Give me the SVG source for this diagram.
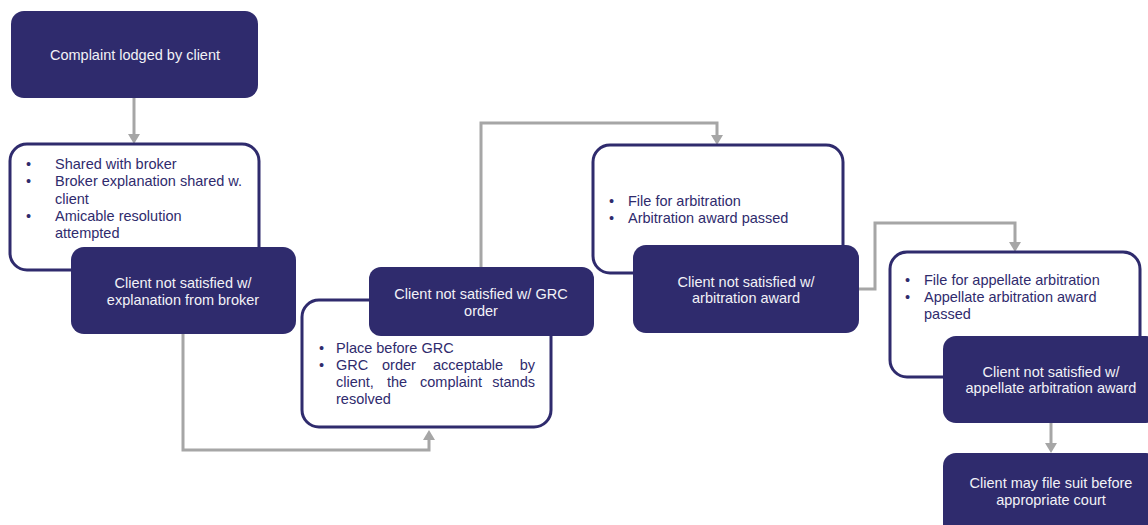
<svg xmlns="http://www.w3.org/2000/svg" width="1148" height="525" viewBox="0 0 1148 525">
<defs>
<style>
.dark{fill:#2f2b6d;stroke:none}
.light{fill:#ffffff;stroke:#2f2b6d;stroke-width:3}
.wt{font-family:"Liberation Sans",Arial,sans-serif;font-size:14.5px;fill:#f2f2f7;text-anchor:middle}
.nt{font-family:"Liberation Sans",Arial,sans-serif;font-size:14.5px;fill:#2f2b6d}
.end{text-anchor:end}
.conn{fill:none;stroke:#a6a6a6;stroke-width:3}
</style>
<marker id="arr" viewBox="0 0 10 12" refX="0" refY="6" markerWidth="10" markerHeight="12" markerUnits="userSpaceOnUse" orient="auto">
<path d="M0,0 L10,6 L0,12 z" fill="#a6a6a6"/>
</marker>
</defs>
<rect width="1148" height="525" fill="#ffffff"/>
<g id="connectors">
<path class="conn" d="M134,98 V134" marker-end="url(#arr)"/>
<path class="conn" d="M183,334 V450 H429 V440" marker-end="url(#arr)"/>
<path class="conn" d="M481,267 V123 H717 V135" marker-end="url(#arr)"/>
<path class="conn" d="M859,289 H875 V223 H1015 V242" marker-end="url(#arr)"/>
<path class="conn" d="M1051,423 V443" marker-end="url(#arr)"/>
</g>
<g id="n1">
<rect class="dark" x="11" y="11" width="247" height="87" rx="13"/>
<text class="wt" x="135" y="60">Complaint lodged by client</text>
</g>
<g id="n2">
<rect class="light" x="10" y="144" width="249" height="126" rx="17"/>
<text class="nt"><tspan x="26" y="169">•</tspan><tspan x="55" y="169">Shared with broker</tspan><tspan x="26" y="186">•</tspan><tspan x="55" y="186">Broker explanation shared w.</tspan><tspan x="55" y="204">client</tspan><tspan x="26" y="221">•</tspan><tspan x="55" y="221">Amicable resolution</tspan><tspan x="55" y="238">attempted</tspan></text>
</g>
<g id="n3">
<rect class="dark" x="71" y="247" width="225" height="87" rx="13"/>
<text class="wt"><tspan x="183" y="288">Client not satisfied w/</tspan><tspan x="183" y="305">explanation from broker</tspan></text>
</g>
<g id="n4">
<rect class="light" x="302" y="300" width="249" height="127" rx="17"/>
<text class="nt"><tspan x="319" y="353">•</tspan><tspan x="336" y="353">Place before GRC</tspan><tspan x="319" y="370">•</tspan><tspan x="336" y="370">GRC</tspan><tspan x="382" y="370">order</tspan><tspan x="433" y="370">acceptable</tspan><tspan x="336" y="387">client,</tspan><tspan x="387" y="387">the</tspan><tspan x="420" y="387">complaint</tspan><tspan x="336" y="404">resolved</tspan></text>
<text class="nt end" x="535" y="370">by</text>
<text class="nt end" x="535" y="387">stands</text>
</g>
<g id="n5">
<rect class="dark" x="369" y="267" width="225" height="69" rx="12"/>
<text class="wt"><tspan x="481" y="299">Client not satisfied w/ GRC</tspan><tspan x="481" y="316">order</tspan></text>
</g>
<g id="n6">
<rect class="light" x="593" y="145" width="250" height="128" rx="17"/>
<text class="nt"><tspan x="609" y="206">•</tspan><tspan x="628" y="206">File for arbitration</tspan><tspan x="609" y="223">•</tspan><tspan x="628" y="223">Arbitration award passed</tspan></text>
</g>
<g id="n7">
<rect class="dark" x="633" y="245" width="226" height="88" rx="13"/>
<text class="wt"><tspan x="746" y="287">Client not satisfied w/</tspan><tspan x="746" y="303">arbitration award</tspan></text>
</g>
<g id="n8">
<rect class="light" x="890" y="252" width="250" height="125" rx="17"/>
<text class="nt"><tspan x="905" y="285">•</tspan><tspan x="924" y="285">File for appellate arbitration</tspan><tspan x="905" y="302">•</tspan><tspan x="924" y="302">Appellate arbitration award</tspan><tspan x="924" y="319">passed</tspan></text>
</g>
<g id="n9">
<rect class="dark" x="943" y="336" width="216" height="87" rx="13"/>
<text class="wt"><tspan x="1051" y="377">Client not satisfied w/</tspan><tspan x="1051" y="393">appellate arbitration award</tspan></text>
</g>
<g id="n10">
<rect class="dark" x="943" y="453" width="216" height="87" rx="13"/>
<text class="wt"><tspan x="1051" y="488">Client may file suit before</tspan><tspan x="1051" y="505">appropriate court</tspan></text>
</g>
</svg>
